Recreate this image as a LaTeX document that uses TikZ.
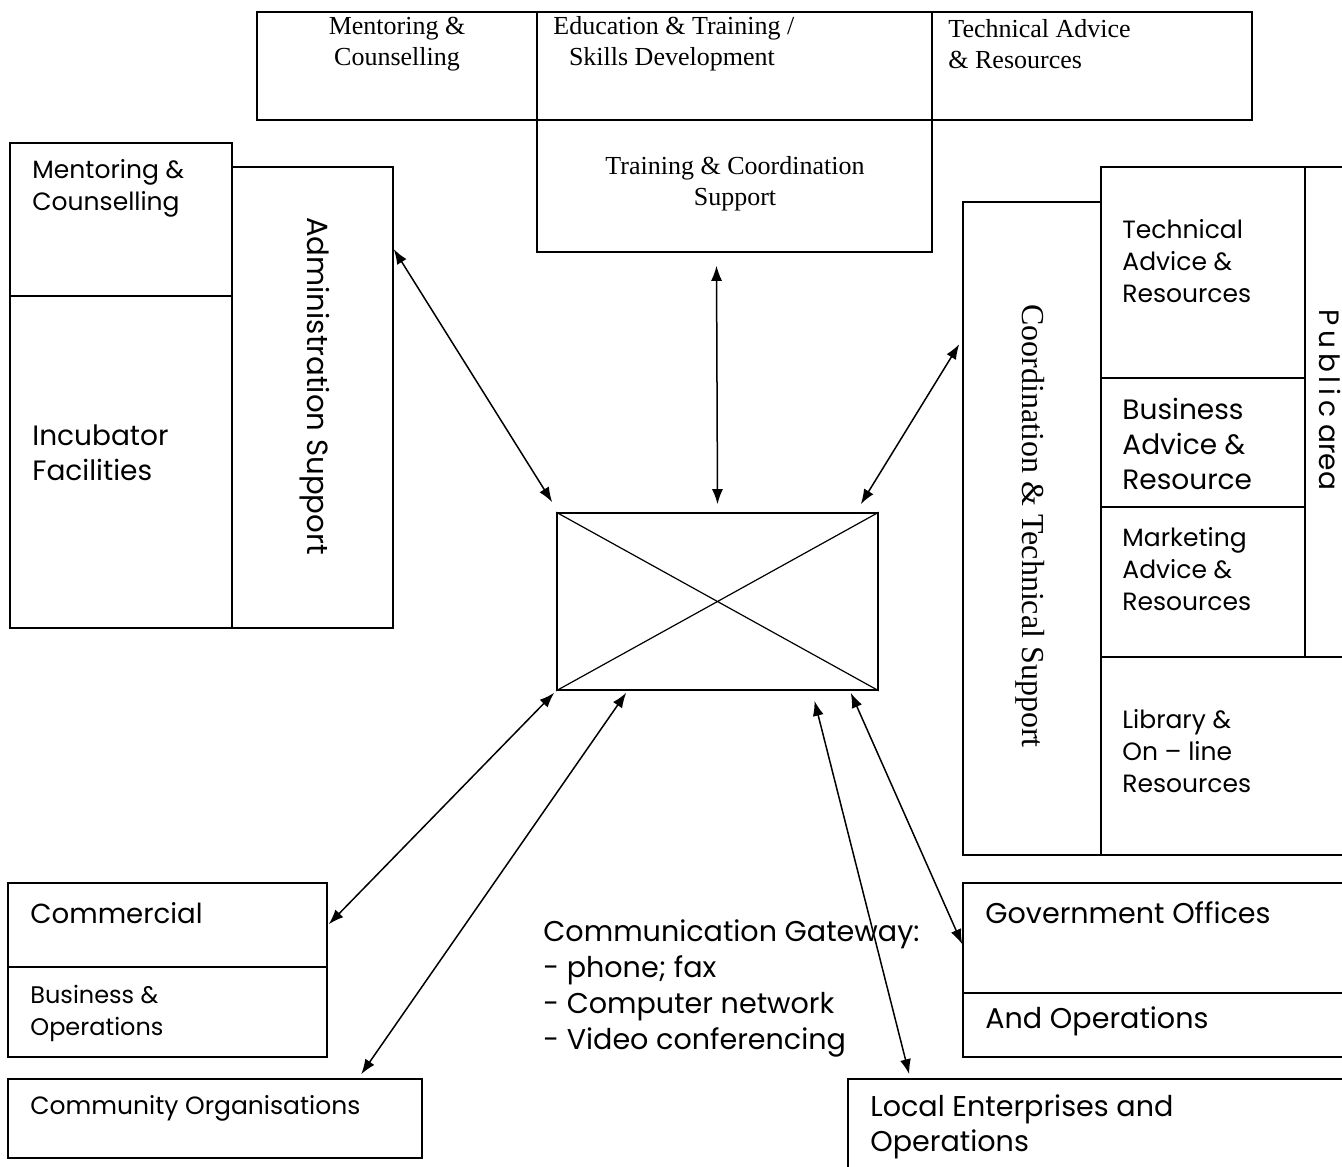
\documentclass[tikz,border=0pt]{standalone}
\usepackage{fontspec}
\setmainfont{Liberation Serif}
\newfontfamily\gothic{Poppins}
\usepackage{tikz}
\usetikzlibrary{positioning,fit,calc,arrows.meta}
\tikzset{cell/.style={draw,line width=0.8pt,inner sep=0pt},
         txt/.style={align=left,inner sep=0pt,font=\gothic\fontsize{12.5}{16}\selectfont},
         big/.style={align=left,inner sep=0pt,font=\gothic\fontsize{14}{17.5}\selectfont},
         serif/.style={align=center,inner sep=0pt,font=\fontsize{13}{15.5}\selectfont},
         link/.style={{Latex[length=7.5pt,width=5.5pt]}-{Latex[length=7.5pt,width=5.5pt]},line width=0.75pt}
}

\begin{document}
\begin{tikzpicture}[x=0.5pt,y=-0.5pt]
\path[use as bounding box,clip] (0,0) rectangle (1342,1166);

%Top row
\node[cell, fit={(257,12) (537,120)}] (topmentor) {};
\node[cell, fit={(537,12) (932,120)}] (topedu) {};
\node[cell, fit={(932,12) (1252,120)}] (toptech) {};
\node[cell, fit={(537,120) (932,252)}] (training) {};

%Left block
\node[cell, fit={(10,143) (232,296)}] (mentor) {};
\node[cell, fit={(10,296) (232,628)}] (incubator) {};
\node[cell, fit={(232,167) (393,628)}] (admin) {};

%Hub
\node[cell, fit={(557,513) (878,690)}] (hub) {};
\draw[line width=0.6pt] (hub.north west) -- (hub.south east) (hub.north east) -- (hub.south west);

%Right block
\node[cell, fit={(963,202) (1101,855)}] (coord) {};
\node[cell, fit={(1101,167) (1305,378)}] (rtech) {};
\node[cell, fit={(1101,378) (1305,507)}] (rbusiness) {};
\node[cell, fit={(1101,507) (1305,657)}] (rmarketing) {};
\node[cell, fit={(1305,167) (1350,657)}] (public) {};
\node[cell, fit={(1101,657) (1350,855)}] (library) {};

%Bottom blocks
\node[cell, fit={(8,883) (327,967)}] (commercial) {};
\node[cell, fit={(8,967) (327,1057)}] (busops) {};
\node[cell, fit={(8,1079) (422,1158)}] (community) {};
\node[cell, fit={(963,883) (1350,993)}] (government) {};
\node[cell, fit={(963,993) (1350,1057)}] (govops) {};
\node[cell, fit={(848,1079) (1350,1180)}] (local) {};

%Links
\draw[link] ($(admin.north east)+(0,83)$) -- ($(hub.north west)+(-4,-10)$);
\draw[link] ($(training.south)+(-18,13)$) -- ($(hub.north)+(0,-8)$);
\draw[link] ($(coord.north west)+(-3,143)$) -- ($(hub.north east)+(-18,-8)$);
\draw[link] ($(commercial.north east)+(1,42)$) -- ($(hub.south west)+(-2,2)$);
\draw[link] ($(community.north west)+(354,-4)$) -- ($(hub.south west)+(70,2)$);
\draw[link] ($(hub.south)+(97,10)$) -- ($(local.north west)+(62,-4)$);
\draw[link] ($(hub.south east)+(-28,2)$) -- ($(government.north west)+(0,62)$);

% Text Node
\node[serif] (tmlabel) at (397,44) {Mentoring \&\\Counselling};
\node[serif, align=left, anchor=west] (telabel) at (553,44) {Education \& Training /\\\hspace*{0.6em}Skills Development};
\node[serif, align=left, anchor=west] (ttlabel) at (948,44) {Technical Advice\\\& Resources};
\node[serif] (trlabel) at (735,184) {Training \& Coordination\\Support};
% Text Node
\node[txt, anchor=west] (mlabel) at (32,188) {Mentoring \&\\Counselling};
\node[big, anchor=west] (ilabel) at (32,453) {Incubator\\Facilities};
\node[big, rotate=-90, font=\gothic\fontsize{14.6}{16}\selectfont] (alabel) at (315,386) {Administration Support};
% Text Node
\node[serif, rotate=-90, font=\fontsize{16}{18}\selectfont] (clabel) at (1030,526) {Coordination \& Technical Support};
\node[txt, anchor=west] (rtlabel) at (1122,261) {Technical\\Advice \&\\Resources};
\node[big, anchor=west] (rblabel) at (1122,444) {Business\\Advice \&\\Resource};
\node[txt, anchor=west] (rmlabel) at (1122,569) {Marketing\\Advice \&\\Resources};
\node[txt, anchor=west] (lilabel) at (1122,751) {Library \&\\On – line\\Resources};
\node[txt, rotate=-90, font=\gothic\fontsize{14}{18}\selectfont] (plabel) at (1330,400) {P\,u\,b\,l\,i\,c area};
% Text Node
\node[big, anchor=west, font=\gothic\fontsize{13.8}{16}\selectfont] (colabel) at (30,913) {Commercial};
\node[txt, anchor=west, font=\gothic\fontsize{12}{16}\selectfont] (bolabel) at (30,1013) {Business \&\\Operations};
\node[txt, anchor=west] (cmlabel) at (30,1108) {Community Organisations};
\node[big, anchor=west, font=\gothic\fontsize{14.3}{18}\selectfont] (gwlabel) at (543,988) {Communication Gateway:\\- phone; fax\\- Computer network\\- Video conferencing};
\node[big, anchor=west, font=\gothic\fontsize{14.3}{16}\selectfont] (golabel) at (985,913) {Government Offices};
\node[big, anchor=west, font=\gothic\fontsize{14.3}{16}\selectfont] (aolabel) at (985,1021) {And Operations};
\node[big, anchor=west, font=\gothic\fontsize{14.3}{17.5}\selectfont] (lolabel) at (870,1127) {Local Enterprises and\\Operations};

\end{tikzpicture}
\end{document}
